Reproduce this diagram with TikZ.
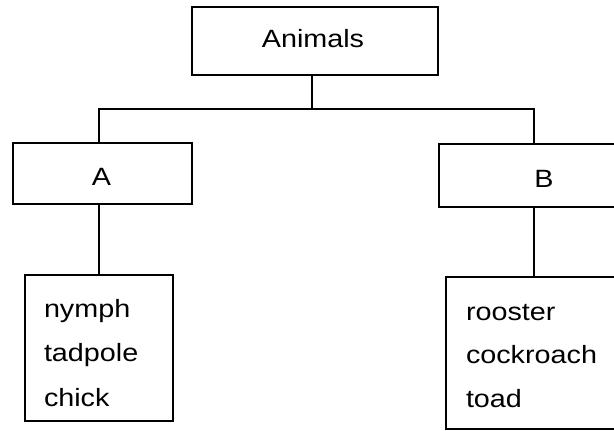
\documentclass[tikz,border=0pt]{standalone}
\usepackage{fontspec}
\setmainfont{Liberation Sans}[FakeStretch=1.15]
\begin{document}
\begin{tikzpicture}[x=1pt,y=-1pt,
  boxstyle/.style={draw=black,line width=2pt,rectangle,inner sep=0pt,outer sep=0pt},
  txt/.style={inner sep=0pt,outer sep=0pt,font=\fontsize{25}{30}\selectfont},
  conn/.style={draw=black,line width=2pt}]
\useasboundingbox (0,0) rectangle (614,431);
\clip (0,0) rectangle (614,431);
% boxes
\node[boxstyle,minimum width=246pt,minimum height=68pt] (anim) at (315,41) {};
\node[boxstyle,minimum width=179pt,minimum height=61pt] (A) at (102.5,173.5) {};
\node[boxstyle,minimum width=210pt,minimum height=63pt] (B) at (544,175.5) {};
\node[boxstyle,minimum width=148pt,minimum height=146pt] (L) at (99,348) {};
\node[boxstyle,minimum width=210pt,minimum height=152pt] (R) at (551,353) {};
% texts
\node[txt,anchor=base] (tanim) at (313,47) {Animals};
\node[txt,anchor=base] (tA) at (101.5,185) {A};
\node[txt,anchor=base] (tB) at (544,187) {B};
\node[txt,anchor=base west] (l1) at (44,317) {nymph};
\node[txt,anchor=base west] (l2) at (44,361) {tadpole};
\node[txt,anchor=base west] (l3) at (44,406) {chick};
\node[txt,anchor=base west] (r1) at (466,320) {rooster};
\node[txt,anchor=base west] (r2) at (466,363) {cockroach};
\node[txt,anchor=base west] (r3) at (466,407) {toad};
% connectors
\coordinate (jm) at (312,109);
\coordinate (jl) at (99,109);
\coordinate (jr) at (534,109);
\draw[conn] (jm |- anim.south) -- (jm);
\draw[conn] (jl |- A.north) -- (jl) -- (jr) -- (jr |- B.north);
\draw[conn] (jl |- A.south) -- (jl |- L.north);
\draw[conn] (jr |- B.south) -- (jr |- R.north);
\end{tikzpicture}
\end{document}
